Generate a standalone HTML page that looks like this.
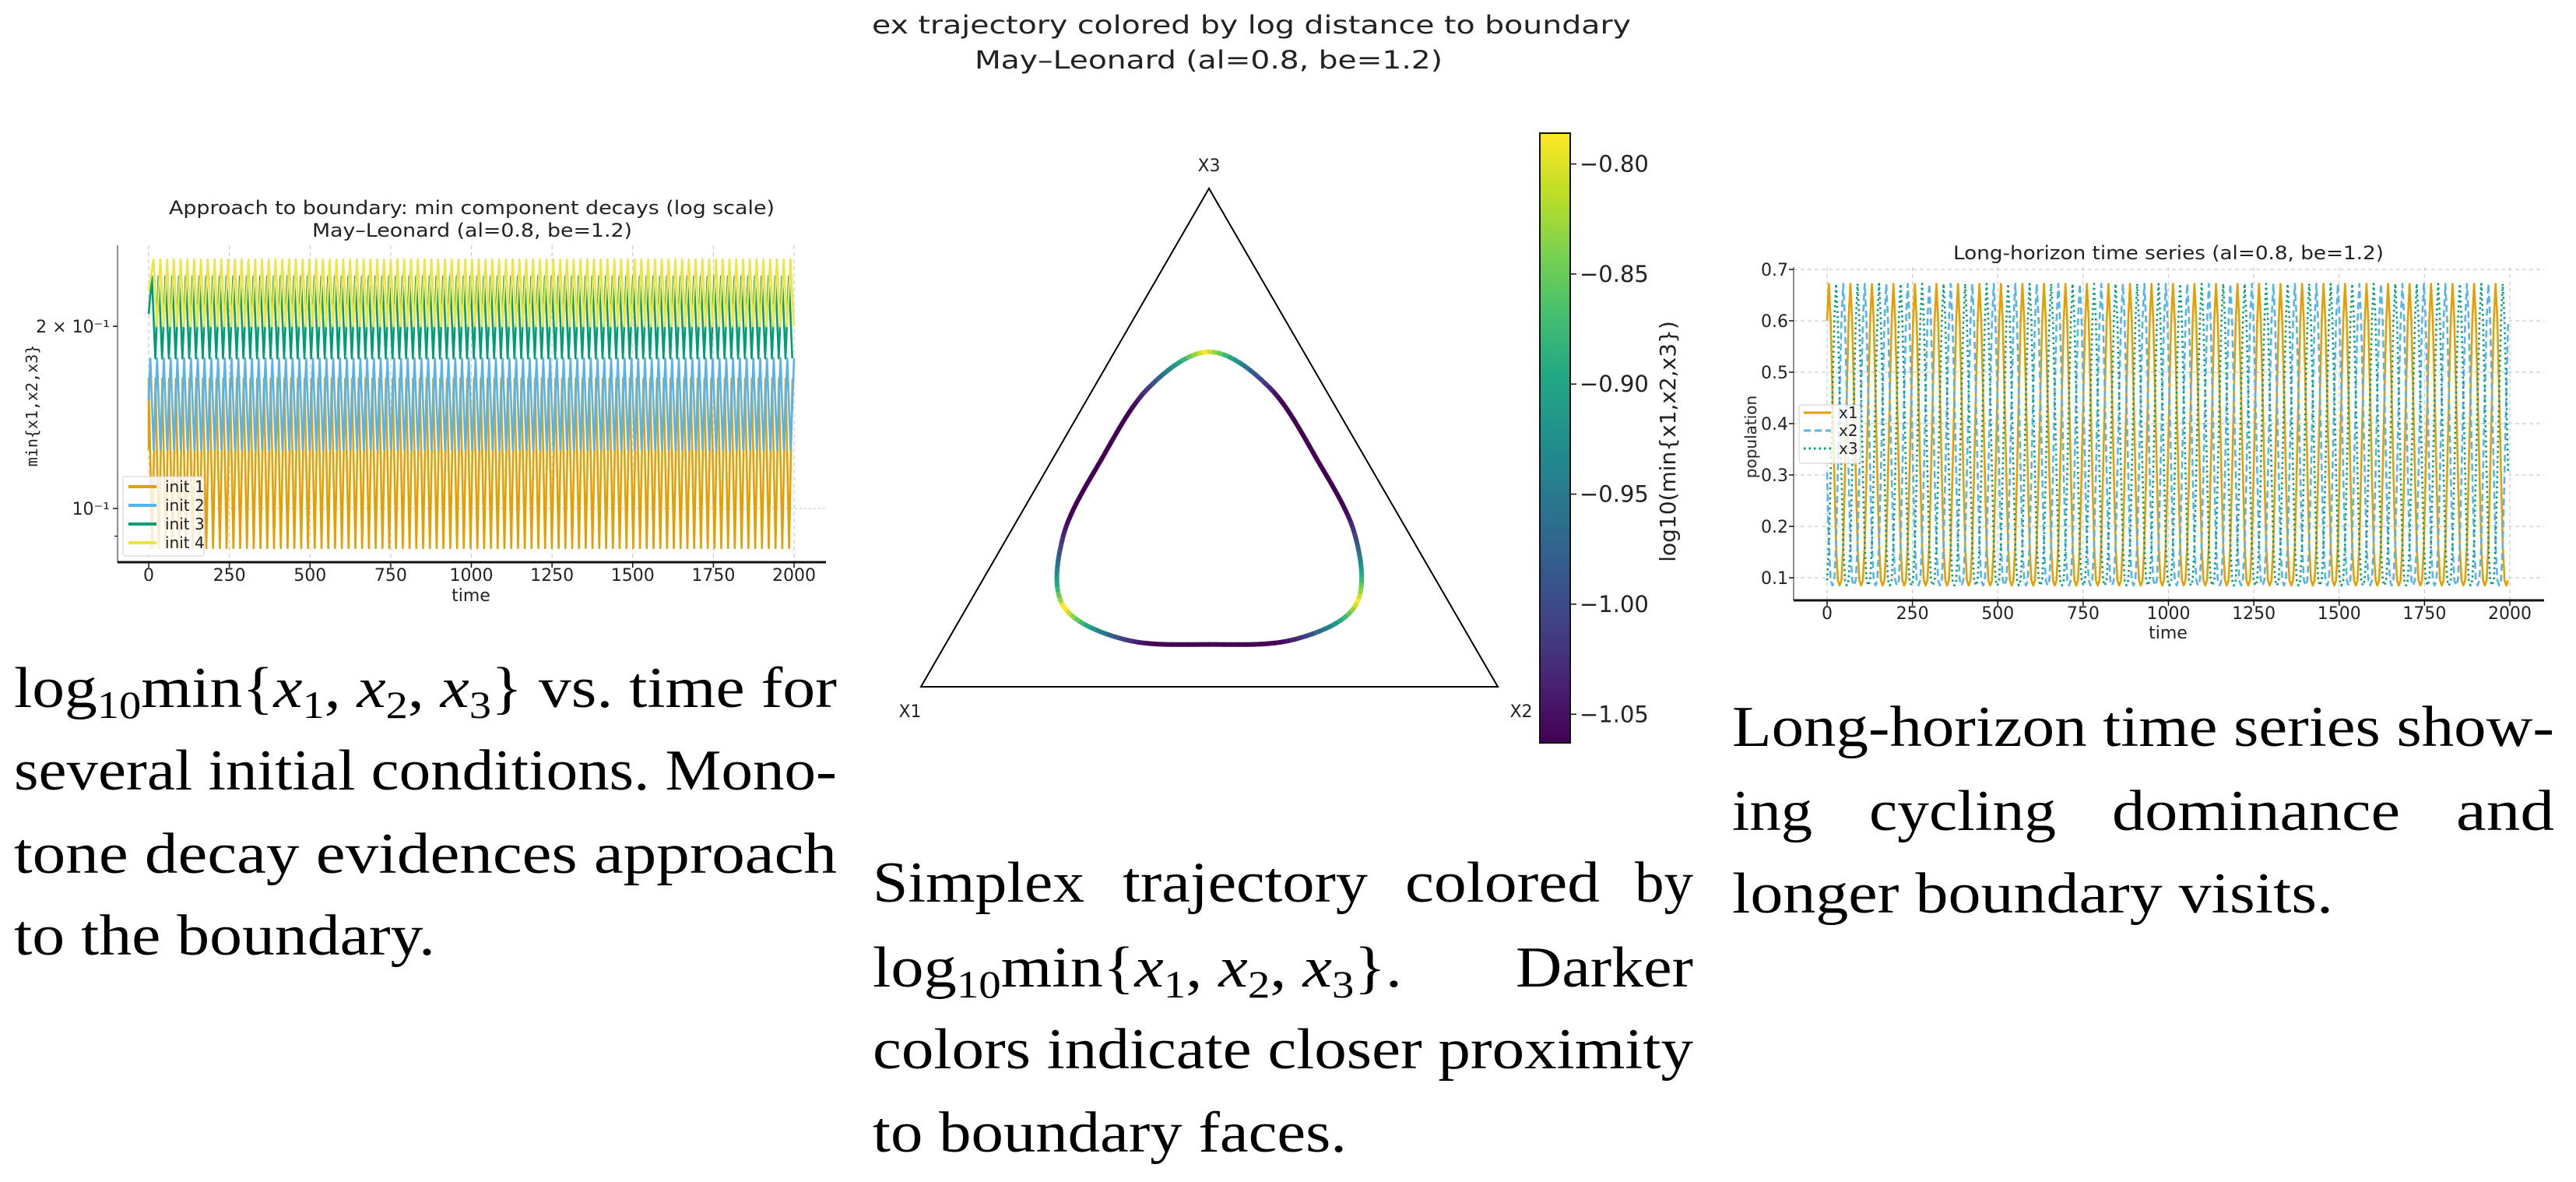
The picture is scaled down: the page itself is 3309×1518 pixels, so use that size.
<!DOCTYPE html>
<html><head><meta charset="utf-8"><style>
html,body{margin:0;padding:0;background:#fff;}
svg{display:block;}
.tk{font-family:"DejaVu Sans","Liberation Sans",sans-serif;fill:#222;}
.cap{font-family:"Liberation Serif",serif;font-size:74px;fill:#000;}
</style></head><body>
<svg id="root" width="3309" height="1518" viewBox="0 0 3309 1518" xmlns="http://www.w3.org/2000/svg">
<g>
<text class="tk" x="217" y="275" font-size="24" textLength="778" lengthAdjust="spacingAndGlyphs">Approach to boundary: min component decays (log scale)</text>
<text class="tk" x="401" y="304" font-size="24" textLength="411" lengthAdjust="spacingAndGlyphs">May–Leonard (al=0.8, be=1.2)</text>
<g id="leftGrid"></g>
<g id="leftSeries"></g>
<line x1="151" y1="315" x2="151" y2="722" stroke="#444" stroke-width="1.2"/>
<line x1="151" y1="722" x2="1061" y2="722" stroke="#111" stroke-width="3"/>
<g id="leftTicks"></g>
<text class="tk" x="605" y="772" font-size="22" text-anchor="middle">time</text>
<text font-family="'DejaVu Sans Mono','Liberation Mono',monospace" font-size="20" fill="#222" text-anchor="middle" transform="translate(48,521) rotate(-90)">min{x1,x2,x3}</text>
<g>
<rect x="158" y="612" width="104" height="102" rx="3" fill="#fff" fill-opacity="0.8" stroke="#ccc"/>
<g id="leftLegend"></g>
</g>
</g>

<g>
<text class="tk" x="1120" y="43" font-size="32" textLength="975" lengthAdjust="spacingAndGlyphs">ex trajectory colored by log distance to boundary</text>
<text class="tk" x="1252" y="88" font-size="32" textLength="601" lengthAdjust="spacingAndGlyphs">May–Leonard (al=0.8, be=1.2)</text>
<polygon points="1183,882 1924,882 1553,242" fill="none" stroke="#000" stroke-width="2"/>
<text class="tk" x="1553" y="220" font-size="22" text-anchor="middle">X3</text>
<text class="tk" x="1169" y="921" font-size="22" text-anchor="middle">X1</text>
<text class="tk" x="1954" y="921" font-size="22" text-anchor="middle">X2</text>
<g id="loop"></g>
<defs><linearGradient id="vir" x1="0" y1="1" x2="0" y2="0"></linearGradient></defs>
<rect x="1978" y="171" width="39" height="783" fill="url(#vir)" stroke="#111" stroke-width="2"/>
<g id="cbTicks"></g>
<text class="tk" font-size="28" text-anchor="middle" transform="translate(2152,567) rotate(-90)">log10(min{x1,x2,x3})</text>
</g>

<g>
<text class="tk" x="2509" y="333" font-size="24" textLength="553" lengthAdjust="spacingAndGlyphs">Long-horizon time series (al=0.8, be=1.2)</text>
<g id="rightGrid"></g>
<g id="rightSeries"></g>
<line x1="2304" y1="343" x2="2304" y2="771" stroke="#444" stroke-width="1.2"/>
<line x1="2304" y1="771" x2="3268" y2="771" stroke="#111" stroke-width="3"/>
<g id="rightTicks"></g>
<text class="tk" x="2785" y="820" font-size="22" text-anchor="middle">time</text>
<text font-family="'DejaVu Sans','Liberation Sans',sans-serif" font-size="20" fill="#222" text-anchor="middle" transform="translate(2256,561) rotate(-90)">population</text>
<rect x="2311" y="520" width="79" height="75" rx="3" fill="#fff" fill-opacity="0.8" stroke="#ccc"/>
<g id="rightLegend"></g>
</g>

<g>
<text class="cap" x="18" y="908" textLength="1057" lengthAdjust="spacingAndGlyphs">log<tspan font-size="50" dy="14">10</tspan><tspan dy="-14">min{</tspan><tspan font-style="italic">x</tspan><tspan font-size="50" dy="14">1</tspan><tspan dy="-14">, </tspan><tspan font-style="italic">x</tspan><tspan font-size="50" dy="14">2</tspan><tspan dy="-14">, </tspan><tspan font-style="italic">x</tspan><tspan font-size="50" dy="14">3</tspan><tspan dy="-14">} vs. time for</tspan></text>
<text class="cap" x="18" y="1014" textLength="1057" lengthAdjust="spacingAndGlyphs">several initial conditions. Mono-</text>
<text class="cap" x="18" y="1121" textLength="1057" lengthAdjust="spacingAndGlyphs">tone decay evidences approach</text>
<text class="cap" x="18" y="1226" textLength="541" lengthAdjust="spacingAndGlyphs">to the boundary.</text>
</g>
<g>
<text class="cap" x="1121" y="1158" textLength="272" lengthAdjust="spacingAndGlyphs">Simplex</text>
<text class="cap" x="1442" y="1158" textLength="315" lengthAdjust="spacingAndGlyphs">trajectory</text>
<text class="cap" x="1805" y="1158" textLength="250" lengthAdjust="spacingAndGlyphs">colored</text>
<text class="cap" x="2100" y="1158" textLength="75" lengthAdjust="spacingAndGlyphs">by</text>
<text class="cap" x="1121" y="1267" textLength="680" lengthAdjust="spacingAndGlyphs">log<tspan font-size="50" dy="14">10</tspan><tspan dy="-14">min{</tspan><tspan font-style="italic">x</tspan><tspan font-size="50" dy="14">1</tspan><tspan dy="-14">, </tspan><tspan font-style="italic">x</tspan><tspan font-size="50" dy="14">2</tspan><tspan dy="-14">, </tspan><tspan font-style="italic">x</tspan><tspan font-size="50" dy="14">3</tspan><tspan dy="-14">}.</tspan></text>
<text class="cap" x="1947" y="1267" textLength="228" lengthAdjust="spacingAndGlyphs">Darker</text>
<text class="cap" x="1121" y="1372" textLength="1054" lengthAdjust="spacingAndGlyphs">colors indicate closer proximity</text>
<text class="cap" x="1121" y="1479" textLength="609" lengthAdjust="spacingAndGlyphs">to boundary faces.</text>
</g>
<g>
<text class="cap" x="2225" y="958" textLength="1056" lengthAdjust="spacingAndGlyphs">Long-horizon time series show-</text>
<text class="cap" x="2225" y="1066" textLength="103" lengthAdjust="spacingAndGlyphs">ing</text>
<text class="cap" x="2401" y="1066" textLength="240" lengthAdjust="spacingAndGlyphs">cycling</text>
<text class="cap" x="2713" y="1066" textLength="370" lengthAdjust="spacingAndGlyphs">dominance</text>
<text class="cap" x="3155" y="1066" textLength="126" lengthAdjust="spacingAndGlyphs">and</text>
<text class="cap" x="2225" y="1172" textLength="772" lengthAdjust="spacingAndGlyphs">longer boundary visits.</text>
</g>
</svg>
<script>
const leftCategories = ['init 1','init 2','init 3','init 4'];
const leftLow = [0.086, 0.125, 0.177, 0.200];
const leftHigh = [0.164, 0.177, 0.242, 0.258];
const leftPeriod = [21, 21, 21, 21];
const leftPhase = [0, 5, 10, 15];
const leftXTicks = [0, 250, 500, 750, 1000, 1250, 1500, 1750, 2000];
const leftYTicks = [0.1, 0.2];
const leftYTickLabels = ['10⁻¹', '2 × 10⁻¹'];

const rightCategories = ['x1', 'x2', 'x3'];
const cycleProfile = [0.672, 0.60, 0.4575, 0.305, 0.164, 0.095, 0.085, 0.095, 0.164, 0.305, 0.4575, 0.60];
const cyclePeriod = [63];
const seriesShift = [0, 4, 8];
const startPhase = [11];
const rightXTicks = [0, 250, 500, 750, 1000, 1250, 1500, 1750, 2000];
const rightYTicks = [0.1, 0.2, 0.3, 0.4, 0.5, 0.6, 0.7];

const cbTicks = [-0.80, -0.85, -0.90, -0.95, -1.00, -1.05];
const cbRange = [-1.063, -0.786];

const NS = 'http://www.w3.org/2000/svg';
function mk(tag, attrs, parent){const e=document.createElementNS(NS,tag);for(const k in attrs)e.setAttribute(k,attrs[k]);parent.appendChild(e);return e;}
const leftColors=['#E69F00','#56B4E9','#009E73','#F0E442'];
const rightColors=['#E69F00','#56B4E9','#009E73'];

const lx = t => 191 + t/2000*829;
const ly = v => 653 - (Math.log10(v)+1)*777;
const lg=document.getElementById('leftGrid'), lt=document.getElementById('leftTicks');
leftXTicks.forEach(t=>{
  const g=mk('line',{x1:lx(t),x2:lx(t),y1:315,y2:722,stroke:'#ccc','stroke-width':1.2,'stroke-dasharray':'5,4'},lg);
  
  
  const m=mk('line',{x1:lx(t),x2:lx(t),y1:722,y2:729,stroke:'#111','stroke-width':1.5},lt);
  
  
  const tx=mk('text',{x:lx(t),y:746,'font-size':22,'text-anchor':'middle',class:'tk'},lt);
  tx.textContent=t;
  
  
});
leftYTicks.forEach((v,i)=>{
  if(i===0){const g=mk('line',{x1:151,x2:1061,y1:ly(v),y2:ly(v),stroke:'#ccc','stroke-width':1.2,'stroke-dasharray':'3,3'},lg);
  
  }
  const m=mk('line',{x1:145,x2:151,y1:ly(v),y2:ly(v),stroke:'#111','stroke-width':1.5},lt);
  
  
  const tx=mk('text',{x:141,y:ly(v)+8,'font-size':22,'text-anchor':'end',class:'tk'},lt);
  tx.textContent=leftYTickLabels[i];
  
  
});
const mm=mk('line',{x1:147,x2:151,y1:ly(0.09),y2:ly(0.09),stroke:'#111','stroke-width':1.2},lt);


const ls=document.getElementById('leftSeries');
leftCategories.forEach((c,i)=>{
  const P=leftPeriod[i]; let pts=[]; let k=0;
  pts.push([lx(0),ly((leftLow[i]+leftHigh[i])/2)]);
  for(let t=leftPhase[i]%P; t<=2000; t+=P/2, k++){
    pts.push([lx(t), ly(k%2===0?leftHigh[i]:leftLow[i])]);
  }
  const p=mk('polyline',{points:pts.map(q=>q[0].toFixed(1)+','+q[1].toFixed(1)).join(' '),fill:'none',stroke:leftColors[i],'stroke-width':2.6,'stroke-linejoin':'round'},ls);
  
  
});
const ll=document.getElementById('leftLegend');
leftCategories.forEach((c,i)=>{
  const y=625+i*24;
  const l=mk('line',{x1:165,x2:201,y1:y,y2:y,stroke:leftColors[i],'stroke-width':4},ll);
  
  
  const tx=mk('text',{x:212,y:y+7,'font-size':20,class:'tk'},ll);
  tx.textContent=c;
  
  
});

const rx = t => 2347 + t/2000*877;
const ry = v => 742 - (v-0.1)/0.6*396;
const rg=document.getElementById('rightGrid'), rt=document.getElementById('rightTicks');
rightXTicks.forEach(t=>{
  const g=mk('line',{x1:rx(t),x2:rx(t),y1:343,y2:771,stroke:'#ccc','stroke-width':1.2,'stroke-dasharray':'5,4'},rg);
  
  
  const m=mk('line',{x1:rx(t),x2:rx(t),y1:771,y2:778,stroke:'#111','stroke-width':1.5},rt);
  
  
  const tx=mk('text',{x:rx(t),y:795,'font-size':22,'text-anchor':'middle',class:'tk'},rt);
  tx.textContent=t;
  
  
});
rightYTicks.forEach(v=>{
  const g=mk('line',{x1:2304,x2:3268,y1:ry(v),y2:ry(v),stroke:'#ccc','stroke-width':1.2,'stroke-dasharray':'5,4'},rg);
  
  
  const m=mk('line',{x1:2298,x2:2304,y1:ry(v),y2:ry(v),stroke:'#111','stroke-width':1.5},rt);
  
  
  const tx=mk('text',{x:2297,y:ry(v)+8,'font-size':22,'text-anchor':'end',class:'tk'},rt);
  tx.textContent=v.toFixed(1);
  
  
});
const rs=document.getElementById('rightSeries');
const dashes=['none','9,5','2.5,4'];
const n=cycleProfile.length, P=cyclePeriod[0];
rightCategories.forEach((c,s)=>{
  let pts=[];
  for(let i=0; i*P/n<=2000; i++){
    const v=cycleProfile[(i+startPhase[0]+seriesShift[s])%n];
    pts.push(rx(i*P/n).toFixed(1)+','+ry(v).toFixed(1));
  }
  const p=mk('polyline',{points:pts.join(' '),fill:'none',stroke:rightColors[s],'stroke-width':2.6,'stroke-dasharray':dashes[s],'stroke-linejoin':'round'},rs);
  
  
});
const rl=document.getElementById('rightLegend');
rightCategories.forEach((c,i)=>{
  const y=530+i*23;
  const l=mk('line',{x1:2317,x2:2352,y1:y,y2:y,stroke:rightColors[i],'stroke-width':3,'stroke-dasharray':dashes[i]},rl);
  
  
  const tx=mk('text',{x:2362,y:y+7,'font-size':20,class:'tk'},rl);
  tx.textContent=c;
  
  
});

const vir=[[68,1,84],[72,35,116],[64,67,135],[52,94,141],[41,120,142],[32,144,140],[34,167,132],[68,190,112],[121,209,81],[189,222,38],[253,231,37]];
function viridis(f){f=Math.max(0,Math.min(1,f));const x=f*(vir.length-1);const i=Math.min(vir.length-2,Math.floor(x));const r=x-i;const c=vir[i].map((a,k)=>Math.round(a+(vir[i+1][k]-a)*r));return 'rgb('+c.join(',')+')';}
const grad=document.getElementById('vir');
vir.forEach((c,i)=>{mk('stop',{offset:(i/(vir.length-1)),'stop-color':'rgb('+c.join(',')+')'},grad);});
const V1=[1183,882],V2=[1924,882],V3=[1553,242];
function bary(a,b,c){const s=a+b+c;a/=s;b/=s;c/=s;return [a*V1[0]+b*V2[0]+c*V3[0], a*V1[1]+b*V2[1]+c*V3[1]];}
const cyc=[];
for(let i=0;i<n;i++){cyc.push([cycleProfile[(i+seriesShift[0])%n],cycleProfile[(i+seriesShift[1])%n],cycleProfile[(i+seriesShift[2])%n]]);}
const loopG=document.getElementById('loop');
const sub=12;
function cr(p0,p1,p2,p3,t){return p1.map((v,k)=>0.5*((2*p1[k])+(-p0[k]+p2[k])*t+(2*p0[k]-5*p1[k]+4*p2[k]-p3[k])*t*t+(-p0[k]+3*p1[k]-3*p2[k]+p3[k])*t*t*t));}
let prev=null;
for(let i=0;i<n;i++){
  const p0=cyc[(i-1+n)%n],p1=cyc[i],p2=cyc[(i+1)%n],p3=cyc[(i+2)%n];
  for(let j=0;j<=sub;j++){
    const q=cr(p0,p1,p2,p3,j/sub);
    const xy=bary(q[0],q[1],q[2]);
    if(prev){
      const s=q[0]+q[1]+q[2];
      const m=Math.min(q[0],q[1],q[2])/s;
      const f=(Math.log10(m)-cbRange[0])/(cbRange[1]-cbRange[0]);
      const seg=mk('line',{x1:prev[0].toFixed(1),y1:prev[1].toFixed(1),x2:xy[0].toFixed(1),y2:xy[1].toFixed(1),stroke:viridis(f),'stroke-width':6,'stroke-linecap':'round'},loopG);
      
      
    }
    prev=xy;
  }
}
const cbt=document.getElementById('cbTicks');
const cby=v=>954-(v-cbRange[0])/(cbRange[1]-cbRange[0])*783;
cbTicks.forEach(v=>{
  const m=mk('line',{x1:2017,x2:2025,y1:cby(v),y2:cby(v),stroke:'#111','stroke-width':1.5},cbt);
  
  
  const tx=mk('text',{x:2029,y:cby(v)+10,'font-size':29,class:'tk'},cbt);
  tx.textContent='−'+Math.abs(v).toFixed(2);
  
  
});
</script>
</body></html>
